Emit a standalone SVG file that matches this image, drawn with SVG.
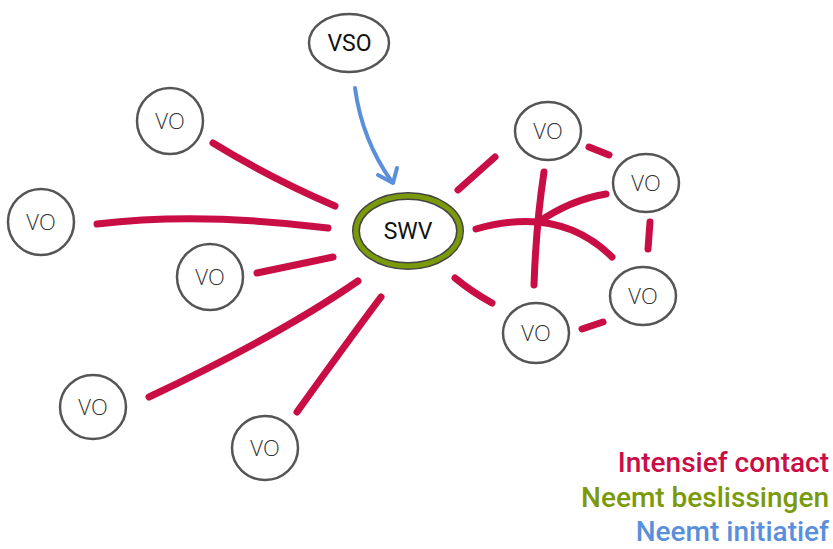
<svg xmlns="http://www.w3.org/2000/svg" width="833" height="549" viewBox="0 0 833 549">
<defs>
<style>
.vo ellipse{fill:#fff;stroke:#555;stroke-width:2.5}
.vo text{font-family:"Open Sans","Liberation Sans",sans-serif;font-weight:300;font-size:22px;fill:#333;text-anchor:middle}
.lbl{font-family:Roboto,"Liberation Sans",sans-serif;font-size:23px;fill:#111;text-anchor:middle}
.red{fill:none;stroke:#C90D45;stroke-width:7;stroke-linecap:round}
.blue{fill:none;stroke:#5A8FDB;stroke-width:4;stroke-linecap:round;stroke-linejoin:round}
.leg{font-family:Roboto,"Liberation Sans",sans-serif;font-weight:500;font-size:28px;text-anchor:end}
</style>
</defs>
<rect width="833" height="549" fill="#fff"/>
<g id="connectors">
<path class="red" d="M213,143 Q270,178 335,206"/>
<path class="red" d="M97,224 Q200,212 328,228"/>
<path class="red" d="M257,273 Q295,265 333,257"/>
<path class="red" d="M358,281 Q280,335 149,397"/>
<path class="red" d="M381,297 Q345,345 297,412"/>
<path class="red" d="M458,190 L495,157"/>
<path class="red" d="M455,278 Q472,292 492,303"/>
<path class="red" d="M476,229 Q560,205 612,257"/>
<path class="red" d="M544,172 Q536,225 534,285"/>
<path class="red" d="M537,223 Q570,200 606,194"/>
<path class="red" d="M589,147 L609,155"/>
<path class="red" d="M650,222 L648,249"/>
<path class="red" d="M582,329 L603,322"/>
<path class="blue" d="M355,88 Q362,140 392,182"/>
<path class="blue" d="M378,175 L393,183 L397,168"/>
</g>
<g id="vso">
<ellipse cx="349" cy="43" rx="40" ry="29" fill="#fff" stroke="#555" stroke-width="2.5"/>
<text class="lbl" x="349.5" y="51">VSO</text>
</g>
<g id="swv">
<ellipse cx="408" cy="231" rx="52" ry="35" fill="#fff" stroke="#444" stroke-width="8"/>
<ellipse cx="408" cy="231" rx="52" ry="35" fill="none" stroke="#7A9A0A" stroke-width="5"/>
<text class="lbl" x="408" y="239">SWV</text>
</g>
<g id="vo1" class="vo"><ellipse cx="170" cy="121" rx="33" ry="33"/><text x="170" y="129">VO</text></g>
<g id="vo2" class="vo"><ellipse cx="41" cy="222" rx="33" ry="33"/><text x="41" y="230">VO</text></g>
<g id="vo3" class="vo"><ellipse cx="210" cy="277" rx="33" ry="33"/><text x="210" y="285">VO</text></g>
<g id="vo4" class="vo"><ellipse cx="93" cy="407" rx="33" ry="32"/><text x="93" y="415">VO</text></g>
<g id="vo5" class="vo"><ellipse cx="265" cy="448" rx="33" ry="32"/><text x="265" y="456">VO</text></g>
<g id="vo6" class="vo"><ellipse cx="548" cy="131" rx="33" ry="29"/><text x="548" y="139">VO</text></g>
<g id="vo7" class="vo"><ellipse cx="646" cy="183" rx="33" ry="29"/><text x="646" y="191">VO</text></g>
<g id="vo8" class="vo"><ellipse cx="643" cy="296" rx="33" ry="29"/><text x="643" y="304">VO</text></g>
<g id="vo9" class="vo"><ellipse cx="536" cy="333" rx="33" ry="30"/><text x="536" y="341">VO</text></g>
<g id="legend">
<text class="leg" x="829" y="472" fill="#C90D45">Intensief contact</text>
<text class="leg" x="829" y="507" fill="#7A9A0A">Neemt beslissingen</text>
<text class="leg" x="829" y="541" fill="#5A8FDB">Neemt initiatief</text>
</g>
</svg>
